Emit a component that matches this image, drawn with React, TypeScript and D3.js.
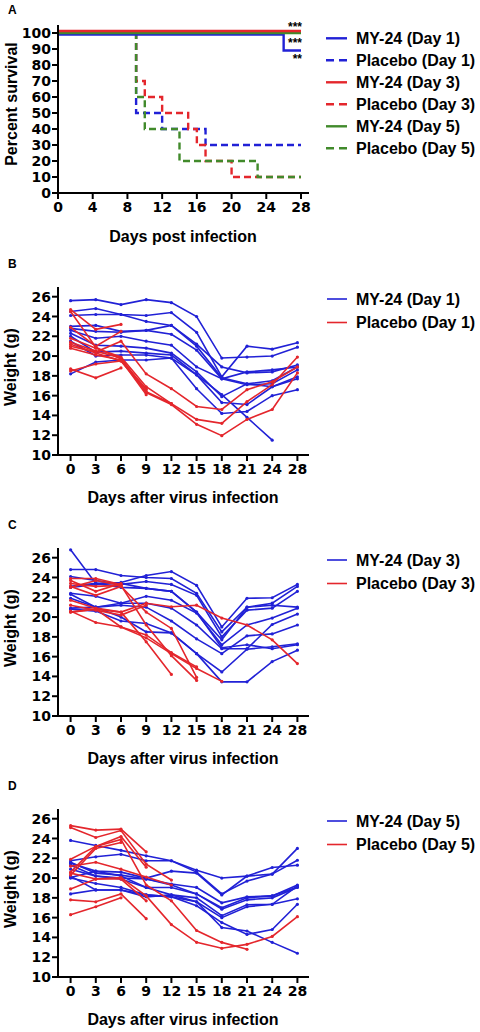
import React from 'react';
import * as d3 from 'd3';

// ---------- Panel A: survival ----------
const SURV_LABELS = ['MY-24 (Day 1)', 'Placebo (Day 1)', 'MY-24 (Day 3)', 'Placebo (Day 3)', 'MY-24 (Day 5)', 'Placebo (Day 5)'];
const MY24_D1_T = [0, 26, 28];
const MY24_D1_V = [100, 90, 90];
const PL_D1_T = [0, 9, 12, 17, 28];
const PL_D1_V = [100, 50, 40, 30, 30];
const MY24_D3_T = [0, 28];
const MY24_D3_V = [100, 100];
const PL_D3_T = [0, 9, 10, 12, 15, 16, 17, 20, 28];
const PL_D3_V = [100, 70, 60, 50, 40, 30, 20, 10, 10];
const MY24_D5_T = [0, 28];
const MY24_D5_V = [100, 100];
const PL_D5_T = [0, 9, 10, 14, 23, 28];
const PL_D5_V = [100, 60, 40, 20, 10, 10];
const SURV_Y_TICKS = [0, 10, 20, 30, 40, 50, 60, 70, 80, 90, 100];
const SURV_X_TICKS = [0, 4, 8, 12, 16, 20, 24, 28];
const SIG_LABELS = ['***', '***', '**'];

// ---------- Weight panels ----------
const DAYS = ['0', '3', '6', '9', '12', '15', '18', '21', '24', '28'];
const WEIGHT_TICKS = [10, 12, 14, 16, 18, 20, 22, 24, 26];

const B_MY24 = [
  [25.6, 25.7, 25.2, 25.7, 25.4, 24.0, 19.8, 19.9, 20.0, 20.9],
  [24.5, 24.8, 24.2, 24.1, 24.4, 22.4, 17.9, 21.0, 20.7, 21.35],
  [24.1, 24.2, 24.2, 23.5, 23.1, 21.2, 18.9, 18.3, 18.4, 19.1],
  [23.0, 23.1, 22.5, 22.6, 23.1, 21.0, 17.8, 17.2, 17.5, 18.9],
  [22.6, 21.8, 22.0, 21.5, 21.1, 18.9, 17.7, 17.1, 17.2, 18.6],
  [22.3, 21.1, 21.0, 20.8, 20.3, 18.4, 15.9, 17.2, 16.9, 17.9],
  [22.0, 20.4, 20.5, 20.3, 20.1, 18.1, 15.3, 15.1, 16.9, 17.7],
  [21.5, 20.0, 20.1, 20.1, 19.8, 16.7, 14.2, 14.4, 16.0, 16.6],
  [18.2, 19.4, 19.6, 19.6, 19.8, 18.1, 16.1, 13.8, 11.5],
  [22.8, 22.5, 22.4, 22.6, 22.2, 20.6, 17.7, 18.4, 18.6, 18.9],
];
const B_PLACEBO = [
  [24.7, 22.7, 23.2],
  [22.9, 21.0, 22.5],
  [21.0, 20.4, 21.5, 18.2, 16.7, 14.9, 14.6, 16.6, 17.4, 18.9],
  [21.8, 20.8, 19.9, 16.9, 15.2, 13.6, 13.2, 15.4, 17.1, 19.9],
  [21.4, 20.5, 19.8, 16.3, 15.1, 13.1, 11.95, 13.6, 14.6, 18.3],
  [24.5, 20.9, 19.7, 16.6],
  [20.8, 20.1, 19.6, 16.1],
  [21.2, 20.3, 19.5, 16.4, 15.2],
  [18.7, 17.8, 18.8],
  [18.5, 19.2, 19.5, 16.7],
];

const C_MY24 = [
  [26.8, 23.4, 23.5, 24.2, 24.6, 23.2, 19.0, 21.9, 21.95, 23.3],
  [24.8, 24.8, 24.2, 24.0, 23.9, 22.4, 18.5, 21.0, 21.4, 23.1],
  [24.1, 23.7, 23.3, 23.6, 23.3, 22.2, 18.0, 20.7, 20.9, 22.6],
  [23.1, 23.4, 23.0, 22.9, 22.6, 20.5, 17.7, 21.0, 21.2, 21.0],
  [22.4, 22.1, 21.4, 22.1, 21.7, 20.4, 17.2, 19.2, 19.9, 20.9],
  [21.9, 21.0, 21.4, 21.4, 20.9, 19.2, 16.8, 16.8, 19.25, 20.3],
  [20.9, 21.0, 21.2, 21.0, 19.6, 17.8, 16.3, 18.1, 18.3, 19.2],
  [23.0, 23.3, 23.4, 22.9, 22.6, 20.5, 16.9, 17.2, 16.8, 17.2],
  [20.8, 20.6, 19.6, 19.35, 18.4, 16.3, 14.45, 16.75, 17.0, 17.3],
  [22.3, 21.0, 20.0, 18.5, 18.4, 16.3, 13.45, 13.45, 15.5, 16.65],
];
const C_PLACEBO = [
  [20.5, 20.8, 20.5, 21.4, 21.04, 21.2, 19.9, 19.2, 17.7, 15.3],
  [23.9, 23.9, 23.3],
  [23.4, 23.1, 23.2],
  [23.7, 22.6, 23.4],
  [21.2, 20.7, 20.2, 21.2],
  [21.7, 20.9, 20.5, 17.5, 14.2],
  [23.1, 22.2, 23.1, 20.5, 18.85, 13.9],
  [23.0, 23.7, 23.2, 19.2, 16.1, 13.6],
  [20.5, 20.8, 19.0, 18.2, 16.4, 14.96],
  [20.6, 19.45, 19.0, 17.9, 16.3, 14.8, 13.5],
];

const D_MY24 = [
  [23.8, 23.3, 22.8, 22.25, 21.75, 20.8, 20.0, 20.2, 20.4, 23.0],
  [21.75, 22.15, 22.4, 21.75, 21.75, 20.6, 18.4, 19.7, 20.4, 21.8],
  [21.5, 20.7, 20.6, 20.0, 20.7, 20.5, 18.3, 20.2, 21.07, 21.3],
  [20.9, 20.2, 20.0, 19.9, 19.4, 19.05, 17.5, 18.1, 18.2, 19.3],
  [20.06, 20.7, 20.2, 19.05, 19.05, 18.4, 16.85, 17.8, 18.0, 19.05],
  [21.3, 20.2, 19.9, 19.05, 18.3, 18.0, 16.2, 17.3, 17.35, 19.2],
  [20.0, 19.45, 19.05, 18.3, 18.1, 17.6, 16.0, 17.1, 17.35, 17.9],
  [18.4, 18.8, 18.8, 18.3, 18.1, 17.2, 15.5, 14.3, 14.8, 17.35],
  [20.2, 18.8, 18.8, 18.1, 18.3, 17.6, 15.0, 14.65, 13.5, 12.4],
  [21.6, 20.5, 20.3, 19.9, 19.3, 18.4, 17.0, 18.0, 18.2, 19.1],
];
const D_PLACEBO = [
  [25.3, 24.85, 24.95, 22.65],
  [25.1, 24.1, 24.8, 21.4, 19.8],
  [21.9, 23.2, 24.2, 21.1],
  [20.6, 23.2, 23.9, 19.3, 17.7, 14.7, 13.5, 12.8],
  [21.2, 21.6, 20.9, 20.1, 19.3],
  [20.5, 19.9, 20.05, 18.2, 15.3, 13.5, 12.9, 13.3, 14.1, 16.1],
  [18.9, 19.9, 19.9, 17.7],
  [17.8, 17.6, 18.4, 15.9],
  [16.3, 17.1, 18.0],
  [20.3, 23.0, 23.6],
];

const B_LABELS = ['MY-24 (Day 1)', 'Placebo (Day 1)'];
const C_LABELS = ['MY-24 (Day 3)', 'Placebo (Day 3)'];
const D_LABELS = ['MY-24 (Day 5)', 'Placebo (Day 5)'];
const WEIGHT_Y_TITLE = 'Weight (g)';
const WEIGHT_X_TITLE = 'Days after virus infection';

// ---------- styles ----------
const BLUE = '#2121d6';
const RED = '#e4262c';
const GREEN = '#418a2b';
const FONT = "'Liberation Sans', Arial, Helvetica, sans-serif";
const TICKFONT = "'DejaVu Sans', Verdana, sans-serif";
const X0 = 58;
const X1 = 310;

function SurvivalPanel() {
  const x = d3.scaleLinear().domain([0, 28]).range([58, 301]);
  const y = d3.scaleLinear().domain([0, 100]).range([193, 33]);
  const line = (t: number[], v: number[], off = 0) =>
    d3.line<number>().curve(d3.curveStepAfter).x((_, i) => x(t[i])).y((d) => y(d) + off)(v) || '';
  const series = [
    { t: PL_D1_T, v: PL_D1_V, c: BLUE, dash: true, off: 0 },
    { t: PL_D3_T, v: PL_D3_V, c: RED, dash: true, off: 0 },
    { t: PL_D5_T, v: PL_D5_V, c: GREEN, dash: true, off: 0 },
    { t: MY24_D1_T, v: MY24_D1_V, c: BLUE, dash: false, off: 1.5 },
    { t: MY24_D5_T, v: MY24_D5_V, c: GREEN, dash: false, off: 0 },
    { t: MY24_D3_T, v: MY24_D3_V, c: RED, dash: false, off: -2 },
  ];
  const legendColors = [BLUE, BLUE, RED, RED, GREEN, GREEN];
  const sigY = [31, 47, 62.5];
  return (
    <g>
      <text x={8} y={14} fontFamily={FONT} fontWeight="bold" fontSize={12}>A</text>
      {series.map((s, i) => (
        <path key={i} d={line(s.t, s.v, s.off)} fill="none" stroke={s.c} strokeWidth={2.4}
          strokeDasharray={s.dash ? '7,4' : undefined} />
      ))}
      {SIG_LABELS.map((s, i) => (
        <text key={i} x={302} y={sigY[i]} textAnchor="end" fontFamily={FONT} fontWeight="bold" fontSize={12}>{s}</text>
      ))}
      {/* axes */}
      <line x1={X0} x2={X0} y1={25} y2={193} stroke="#000" strokeWidth={2} />
      <line x1={X0 - 1} x2={309} y1={193} y2={193} stroke="#000" strokeWidth={2} />
      {SURV_Y_TICKS.map((t) => (
        <g key={t}>
          <line x1={52} x2={X0} y1={y(t)} y2={y(t)} stroke="#000" strokeWidth={2} />
          <text x={51} y={y(t)} dy="0.36em" textAnchor="end" fontFamily={TICKFONT} fontWeight="bold" fontSize={14}>{t}</text>
        </g>
      ))}
      {SURV_X_TICKS.map((t) => (
        <g key={t}>
          <line x1={x(t)} x2={x(t)} y1={193} y2={199} stroke="#000" strokeWidth={2} />
          <text x={x(t)} y={212} textAnchor="middle" fontFamily={TICKFONT} fontWeight="bold" fontSize={14}>{t}</text>
        </g>
      ))}
      <text x={183} y={242} textAnchor="middle" fontFamily={FONT} fontWeight="bold" fontSize={16}>Days post infection</text>
      <text transform="translate(17,104) rotate(-90)" textAnchor="middle" fontFamily={FONT} fontWeight="bold" fontSize={16}>Percent survival</text>
      {SURV_LABELS.map((l, i) => {
        const ly = 38.3 + i * 22;
        return (
          <g key={l}>
            <line x1={326} x2={347} y1={ly} y2={ly} stroke={legendColors[i]} strokeWidth={2.4}
              strokeDasharray={i % 2 === 1 ? '8,5' : undefined} />
            <text x={356} y={ly + 5.5} fontFamily={FONT} fontWeight="bold" fontSize={16}>{l}</text>
          </g>
        );
      })}
    </g>
  );
}

function WeightPanel(props: { axisY: number; letter: string; my: number[][]; pl: number[][]; labels: string[]; titleCenter: number }) {
  const { axisY, letter, my, pl, labels, titleCenter } = props;
  const x = d3.scalePoint<string>().domain(DAYS).range([X0, X1]).padding(0.5);
  const y = d3.scaleLinear().domain([10, 26]).range([axisY, axisY - 158.3]);
  const line = d3.line<number>().x((_, i) => x(DAYS[i]) as number).y((d) => y(d));
  const top = axisY - 168;
  const legendY = axisY - 156;
  const drawGroup = (data: number[][], color: string, key: string) => (
    <g key={key}>
      {data.map((s, i) => (
        <g key={i}>
          <path d={line(s) || ''} fill="none" stroke={color} strokeWidth={1.6} />
          {s.map((v, j) => (
            <circle key={j} cx={x(DAYS[j]) as number} cy={y(v)} r={1.6} fill={color} />
          ))}
        </g>
      ))}
    </g>
  );
  return (
    <g>
      <text x={8} y={axisY - 187} fontFamily={FONT} fontWeight="bold" fontSize={12}>{letter}</text>
      {drawGroup(my, BLUE, 'my')}
      {drawGroup(pl, RED, 'pl')}
      <line x1={X0} x2={X0} y1={top} y2={axisY} stroke="#000" strokeWidth={2} />
      <line x1={X0 - 1} x2={309} y1={axisY} y2={axisY} stroke="#000" strokeWidth={2} />
      {WEIGHT_TICKS.map((t) => (
        <g key={t}>
          <line x1={52} x2={X0} y1={y(t)} y2={y(t)} stroke="#000" strokeWidth={2} />
          <text x={51} y={y(t)} dy="0.36em" textAnchor="end" fontFamily={TICKFONT} fontWeight="bold" fontSize={14}>{t}</text>
        </g>
      ))}
      {DAYS.map((d) => (
        <g key={d}>
          <line x1={x(d) as number} x2={x(d) as number} y1={axisY} y2={axisY + 6} stroke="#000" strokeWidth={2} />
          <text x={x(d) as number} y={axisY + 19} textAnchor="middle" fontFamily={TICKFONT} fontWeight="bold" fontSize={14}>{d}</text>
        </g>
      ))}
      <text x={183} y={axisY + 48} textAnchor="middle" fontFamily={FONT} fontWeight="bold" fontSize={16}>{WEIGHT_X_TITLE}</text>
      <text transform={`translate(16,${titleCenter}) rotate(-90)`} textAnchor="middle" fontFamily={FONT} fontWeight="bold" fontSize={16}>{WEIGHT_Y_TITLE}</text>
      {labels.map((l, i) => {
        const ly = legendY + i * 23.5;
        return (
          <g key={l}>
            <line x1={327} x2={347} y1={ly} y2={ly} stroke={i === 0 ? BLUE : RED} strokeWidth={1.6} />
            <text x={356} y={ly + 5.5} fontFamily={FONT} fontWeight="bold" fontSize={16}>{l}</text>
          </g>
        );
      })}
    </g>
  );
}

export default function App() {
  return (
    <svg width={480} height={1032} viewBox="0 0 480 1032"
      style={{ position: 'absolute', left: 0, top: 0, background: '#fff' }}>
      <rect width={480} height={1032} fill="#fff" />
      <SurvivalPanel />
      <WeightPanel axisY={455} letter="B" my={B_MY24} pl={B_PLACEBO} labels={B_LABELS} titleCenter={367} />
      <WeightPanel axisY={716} letter="C" my={C_MY24} pl={C_PLACEBO} labels={C_LABELS} titleCenter={628} />
      <WeightPanel axisY={977} letter="D" my={D_MY24} pl={D_PLACEBO} labels={D_LABELS} titleCenter={889} />
    </svg>
  );
}
